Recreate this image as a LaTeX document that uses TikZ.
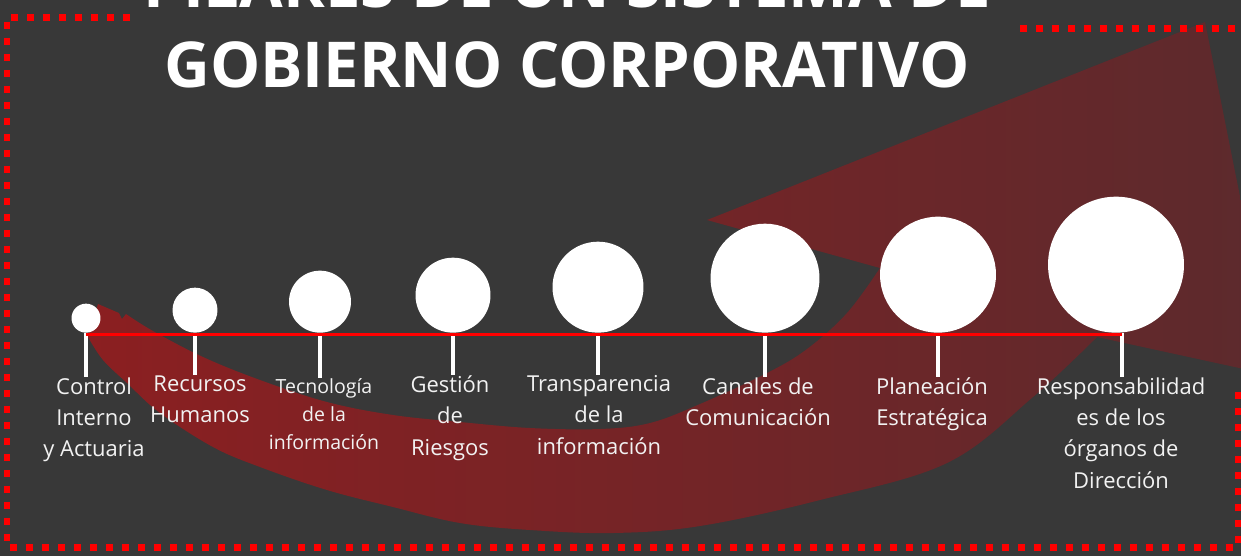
\documentclass[tikz,border=0pt]{standalone}
\usepackage{fontspec}
\setmainfont{Open Sans}

\definecolor{fondo}{HTML}{383838}
\definecolor{rojo}{HTML}{FF0000}
\definecolor{flechaA}{RGB}{139,31,33}
\definecolor{flechaB}{RGB}{92,42,45}
\definecolor{letra}{HTML}{F2F2F2}

\tikzset{
  pilar/.style={circle, fill=white, inner sep=0pt, anchor=south},
  etiqueta/.style={text=letra, align=center, inner sep=0pt, anchor=north,
    font=\fontsize{12.5}{17.9}\selectfont},
  palito/.style={draw=white, line width=0.08cm},
  borde/.style={draw=rojo, line width=0.14cm, dash pattern=on 0.14cm off 0.18cm},
}

\begin{document}
\begin{tikzpicture}[x=0.02cm, y=-0.02cm]
        \useasboundingbox (0,0) rectangle (1241,556);
        \fill[fondo] (0,0) rectangle (1241,556);
        \clip (0,0) rectangle (1241,556);
        % flecha curva de fondo
        \shade[left color=flechaA, right color=flechaB]
            (98,304) -- (119,313) -- (122,319) -- (126,314)
            -- plot[smooth, tension=0.6] coordinates {(126,314) (153,331) (203,357) (260,380) (327,402) (393,415) (460,422) (530,428) (600,429) (650,423) (700,404) (767,373) (807,349) (847,313) (880,268)}
            -- (707,220) -- (1205,22) -- (1276,376) -- (1097,337)
            -- plot[smooth, tension=0.6] coordinates {(1097,337) (1033,397) (947,463) (820,500) (700,526) (613,533) (530,530) (460,523) (393,507) (327,490) (260,467) (213,447) (160,413) (127,383) (103,360) (88,337)}
            -- cycle;
        % marco punteado
        \draw[borde] (130,17) -- (7,17) -- (7,547) -- (1238,547) -- (1238,390);
        \draw[borde] (1020,28) -- (1250,28);
        \node[text=white, align=center, inner sep=0pt, anchor=south,
            font=\fontsize{36}{45.5}\selectfont\bfseries] (titulo) at (567,88)
            {PILARES DE UN SISTEMA DE\\GOBIERNO CORPORATIVO};
        % pilares
        \node[pilar, minimum size=0.58cm] (c1) at (86,333) {};
        \node[pilar, minimum size=0.90cm] (c2) at (195,333) {};
        \node[pilar, minimum size=1.24cm] (c3) at (320,333) {};
        \node[pilar, minimum size=1.50cm] (c4) at (453,333) {};
        \node[pilar, minimum size=1.82cm] (c5) at (598,333) {};
        \node[pilar, minimum size=2.18cm] (c6) at (765,333) {};
        \node[pilar, minimum size=2.32cm] (c7) at (938,333) {};
        \node[pilar, minimum size=2.72cm] (c8) at (1116,333) {};
        \node[etiqueta] (e1) at (94,377) {Control\\Interno\\y Actuaria};
        \node[etiqueta] (e2) at (200,375) {Recursos\\Humanos};
        \node[etiqueta, font=\fontsize{11.1}{15.9}\selectfont] (e3) at (324,378) {Tecnología\\de la\\información};
        \node[etiqueta] (e4) at (450,375) {Gestión\\de\\Riesgos};
        \node[etiqueta] (e5) at (599,375) {Transparencia\\de la\\información};
        \node[etiqueta] (e6) at (758,377) {Canales de\\Comunicación};
        \node[etiqueta] (e7) at (932,377) {Planeación\\Estratégica};
        \node[etiqueta] (e8) at (1121,377) {Responsabilidad\\es de los\\órganos de\\Dirección};
        \draw[palito] (c1.south) -- (c1.south |- e1.north);
        \draw[palito] (c2.south) -- (c2.south |- e2.north);
        \draw[palito] (c3.south) -- (c3.south |- e3.north);
        \draw[palito] (c4.south) -- (c4.south |- e4.north);
        \draw[palito] (c5.south) -- (c5.south |- e5.north);
        \draw[palito] (c6.south) -- (c6.south |- e6.north);
        \draw[palito] (c7.south) -- (c7.south |- e7.north);
        \draw[palito] ([xshift=0.12cm]c8.south) -- ([xshift=0.12cm]c8.south |- e8.north);
        \draw[rojo, line width=0.06cm] ([yshift=-0.02cm]c1.south) -- ([xshift=0.12cm, yshift=-0.02cm]c8.south);
    \end{tikzpicture}
\end{document}
